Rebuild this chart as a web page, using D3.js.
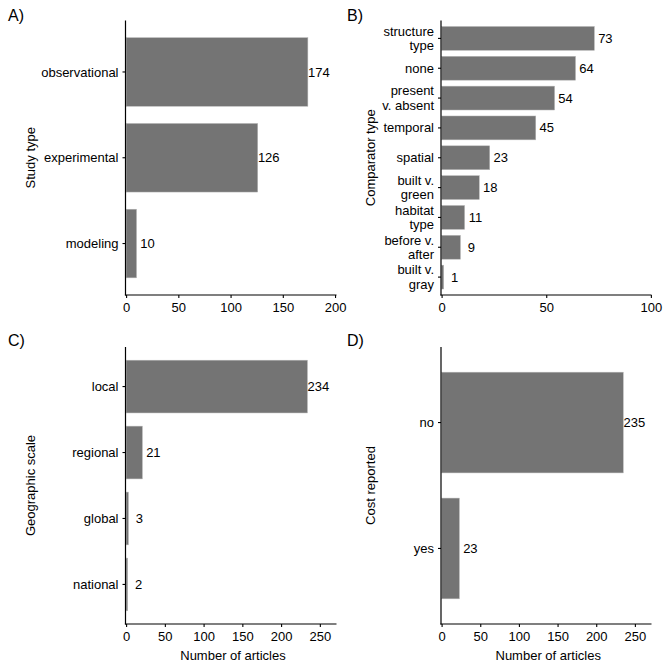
<!DOCTYPE html>
<html>
<head>
<meta charset="utf-8">
<script src="https://cdn.jsdelivr.net/npm/d3@7"></script>
<style>
  html, body { margin: 0; padding: 0; background: #fff; }
  svg { display: block; font-family: "Liberation Sans", Arial, sans-serif; }
</style>
</head>
<body>
<svg id="chart" width="669" height="666"></svg>
<script>
// ---- data ----
const studyTypes = ["observational", "experimental", "modeling"];
const studyCounts = [174, 126, 10];

const comparatorTypes = ["structure\ntype", "none", "present\nv. absent", "temporal", "spatial",
                         "built v.\ngreen", "habitat\ntype", "before v.\nafter", "built v.\ngray"];
const comparatorCounts = [73, 64, 54, 45, 23, 18, 11, 9, 1];

const geoScales = ["local", "regional", "global", "national"];
const geoCounts = [234, 21, 3, 2];

const costReported = ["no", "yes"];
const costCounts = [235, 23];

const ticksA = [0, 50, 100, 150, 200];
const ticksB = [0, 50, 100];
const ticksC = [0, 50, 100, 150, 200, 250];
const ticksD = [0, 50, 100, 150, 200, 250];

const panelLabels = ["A)", "B)", "C)", "D)"];
const yTitles = ["Study type", "Comparator type", "Geographic scale", "Cost reported"];
const xTitle = "Number of articles";

// ---- layout ----
const panels = [
  { cats: studyTypes, vals: studyCounts, ticks: ticksA, max: 201.4, x0: 125.5, x1: 336.5, y0: 20.5, y1: 295, lab: panelLabels[0], lx: 8, ly: 21, yt: yTitles[0], ytx: 30, xt: null },
  { cats: comparatorTypes, vals: comparatorCounts, ticks: ticksB, max: 100.3, x0: 441, x1: 651.5, y0: 20.5, y1: 295, lab: panelLabels[1], lx: 347, ly: 21, yt: yTitles[1], ytx: 370, xt: null },
  { cats: geoScales, vals: geoCounts, ticks: ticksC, max: 271.5, x0: 125.5, x1: 336.5, y0: 347, y1: 624, lab: panelLabels[2], lx: 8, ly: 346, yt: yTitles[2], ytx: 30, xt: xTitle },
  { cats: costReported, vals: costCounts, ticks: ticksD, max: 271.5, x0: 441, x1: 651.5, y0: 347, y1: 624, lab: panelLabels[3], lx: 347, ly: 346, yt: yTitles[3], ytx: 370, xt: xTitle }
];

const svg = d3.select("#chart");
const FS = 13;
const INK = "#000";

panels.forEach(p => {
  const g = svg.append("g");
  const x = d3.scaleLinear().domain([0, p.max]).range([p.x0 + 0.6, p.x1]);
  const y = d3.scaleBand().domain(p.cats).range([p.y0, p.y1]).paddingInner(0.2).paddingOuter(0.2);
  const data = p.cats.map((c, i) => ({ c, v: p.vals[i] }));

  // bars
  g.selectAll("rect.bar").data(data).enter().append("rect")
    .attr("class", "bar")
    .attr("x", x(0))
    .attr("y", d => y(d.c))
    .attr("width", d => Math.max(0, x(d.v) - x(0)))
    .attr("height", y.bandwidth())
    .attr("fill", "#747474")
    .attr("stroke", "#b8b8b8")
    .attr("stroke-width", 0.5);

  // value labels
  g.selectAll("text.val").data(data).enter().append("text")
    .attr("class", "val")
    .attr("x", d => x(d.v) + 11)
    .attr("y", d => y(d.c) + y.bandwidth() / 2)
    .attr("dy", "0.35em")
    .attr("text-anchor", "middle")
    .attr("font-size", FS)
    .attr("fill", INK)
    .text(d => d.v);

  // x axis
  const xa = g.append("g")
    .attr("transform", `translate(0,${p.y1})`)
    .call(d3.axisBottom(x).tickValues(p.ticks).tickSize(3).tickSizeOuter(0).tickPadding(4.5));
  xa.select(".domain").attr("d", `M${p.x0 - 0.6},0H${p.x1}`).attr("stroke", "#000").attr("stroke-width", 1.2);
  xa.selectAll(".tick line").attr("stroke", "#000").attr("stroke-width", 1.1);
  xa.selectAll(".tick text").attr("font-size", FS).attr("font-family", null).attr("fill", INK);

  // y axis
  const ya = g.append("g")
    .attr("transform", `translate(${p.x0},0)`)
    .call(d3.axisLeft(y).tickSize(3).tickSizeOuter(0).tickPadding(4));
  ya.select(".domain").attr("d", `M0,${p.y0}V${p.y1 + 0.6}`).attr("stroke", "#000").attr("stroke-width", 1.2);
  ya.selectAll(".tick line").attr("stroke", "#000").attr("stroke-width", 1.1);
  ya.selectAll(".tick").each(function(d) {
    const tick = d3.select(this);
    const orig = tick.select("text");
    const tx = orig.attr("x");
    const lines = d.split("\n");
    orig.remove();
    const lh = 14.6;
    lines.forEach((ln, i) => {
      tick.append("text")
        .attr("x", tx)
        .attr("y", (i - (lines.length - 1) / 2) * lh)
        .attr("dy", "0.35em")
        .attr("text-anchor", "end")
        .attr("font-size", FS)
        .attr("fill", INK)
        .text(ln);
    });
  });

  // panel label
  svg.append("text")
    .attr("x", p.lx).attr("y", p.ly)
    .attr("font-size", 16).attr("fill", INK)
    .text(p.lab);

  // y title
  const cy = (p.y0 + p.y1) / 2;
  svg.append("text")
    .attr("transform", `translate(${p.ytx},${cy}) rotate(-90)`)
    .attr("text-anchor", "middle")
    .attr("dy", "0.35em")
    .attr("font-size", FS).attr("fill", INK)
    .text(p.yt);

  // x title
  if (p.xt) {
    svg.append("text")
      .attr("x", (p.x0 + p.x1) / 2 + 2)
      .attr("y", 659.5)
      .attr("text-anchor", "middle")
      .attr("font-size", FS).attr("fill", INK)
      .text(p.xt);
  }
});
</script>
</body>
</html>
